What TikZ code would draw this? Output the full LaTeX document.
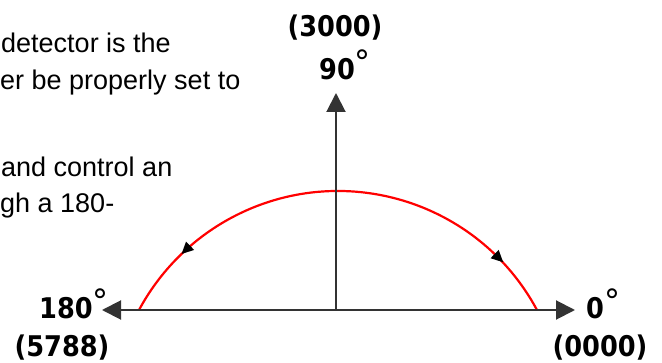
\documentclass[tikz,border=0pt]{standalone}
\usepackage{fontspec}
\setmainfont{Liberation Sans}
\newfontfamily\labfont{DejaVu Sans}[FakeStretch=0.9]
\newfontfamily\degfont{DejaVu Sans}
\usetikzlibrary{arrows.meta,decorations.markings}
\newcommand\dg{{\degfont\mdseries\fontsize{32}{32}\selectfont\raisebox{6pt}{°}}}
\tikzset{
  body/.style={anchor=base west,inner sep=0pt,font=\fontsize{27}{27}\selectfont},
  lab/.style={inner sep=0pt,font=\labfont\bfseries\fontsize{28.5}{28.5}\selectfont},
  axis/.style={draw=black!80,line width=2pt,-{Triangle[length=19pt,width=19pt]}},
  sweep/.style={draw=red,line width=2.2pt,
    postaction={decorate},
    decoration={markings,
      mark=at position 0.145 with {\arrow[black]{Triangle[reversed,length=12pt,width=11pt]}},
      mark=at position 0.855 with {\arrow[black]{Triangle[length=12pt,width=11pt]}}}}
}
\begin{document}
\begin{tikzpicture}[x=1pt,y=1pt]
\useasboundingbox[fill=white] (0,0) rectangle (662,362);
% body text
\node[body] (t1) at (1,309) {detector is the};
\node[body] (t2) at (0,272) {er be properly set to};
\node[body] (t3) at (1,185) {and control an};
\node[body] (t4) at (0,149) {gh a 180-};
% axes
\coordinate (o) at (336,52);
\coordinate (l) at (102,52);
\coordinate (r) at (575,52);
\coordinate (u) at (336,269);
\coordinate (c) at (338,-54.9);
\draw[sweep] (c) ++(28.2:225.9) arc[start angle=28.2,end angle=151.8,radius=225.9];
\draw[axis] (o) -- (l);
\draw[axis] (o) -- (r);
\draw[axis] (o) -- (u);
% labels
\node[lab,anchor=base] (n3000) at (335,325) {(3000)};
\node[lab,anchor=base west] (n90) at (319,282) {90\dg};
\node[lab,anchor=base west] (n180) at (39,44) {180\dg};
\node[lab,anchor=base] (n5788) at (62,6) {(5788)};
\node[lab,anchor=base west] (n0) at (586,44) {0\dg};
\node[lab,anchor=base] (n0000) at (600,6) {(0000)};
\end{tikzpicture}
\end{document}
